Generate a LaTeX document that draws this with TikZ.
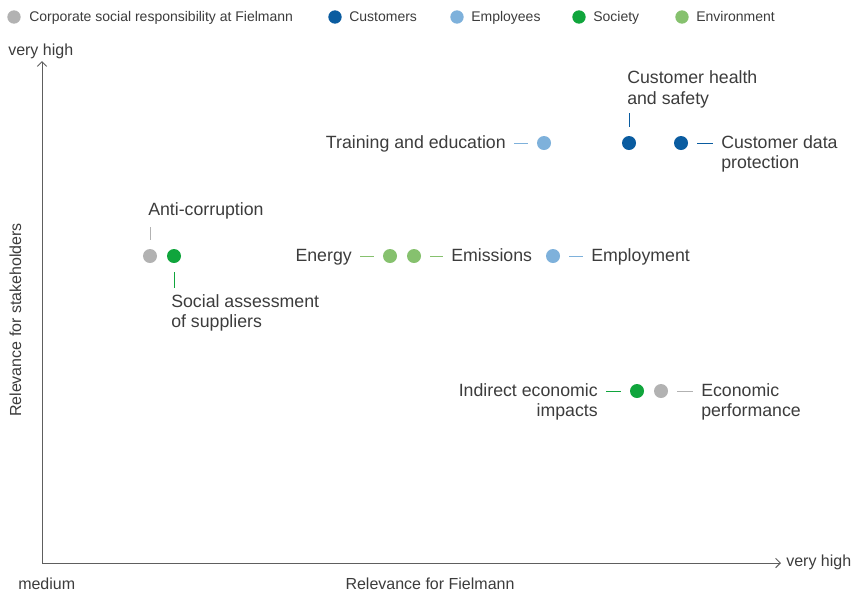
\documentclass[tikz,border=0pt]{standalone}
\usepackage{fontspec}
\setmainfont{Liberation Sans}
\usetikzlibrary{positioning,arrows.meta}

\definecolor{csrgrey}{HTML}{B2B2B2}
\definecolor{custblue}{HTML}{0A5CA0}
\definecolor{empblue}{HTML}{7EB1DB}
\definecolor{socgreen}{HTML}{10A53C}
\definecolor{envgreen}{HTML}{86C16E}
\definecolor{txtgrey}{HTML}{3C3C3C}
\definecolor{axisgrey}{HTML}{5E5E5E}

\tikzset{
  dot/.style={circle, fill=#1, inner sep=0pt, minimum size=10.5pt},
  lbl/.style={text=txtgrey, font=\fontsize{13.3}{15.5}\selectfont, inner sep=0pt},
  oneline/.style={lbl, text height=10.6pt, text depth=2.4pt},
  axlbl/.style={text=txtgrey, font=\fontsize{12}{14}\selectfont, inner sep=0pt, text height=8.8pt, text depth=2.5pt},
  lgd/.style={text=txtgrey, font=\fontsize{10.5}{12}\selectfont, inner sep=0pt, anchor=west, text height=8.3pt, text depth=1.9pt},
  conn/.style={draw=#1, line width=0.7pt, shorten <=6.75pt, shorten >=6pt},
}

\begin{document}
\begin{tikzpicture}[x=0.75pt, y=-0.75pt]
    \useasboundingbox (0,0) rectangle (853,594);

    % legend
    \node[dot=csrgrey, minimum size=10pt] (lgcsr) at (14,17) {};
    \node[lgd] at (29,17) {Corporate social responsibility at Fielmann};
    \node[dot=custblue, minimum size=10pt] (lgcust) at (335,17) {};
    \node[lgd] at (349,17) {Customers};
    \node[dot=empblue, minimum size=10pt] (lgemp) at (457,17) {};
    \node[lgd] at (471,17) {Employees};
    \node[dot=socgreen, minimum size=10pt] (lgsoc) at (579,17) {};
    \node[lgd] at (593,17) {Society};
    \node[dot=envgreen, minimum size=10pt] (lgenv) at (682,17) {};
    \node[lgd] at (696,17) {Environment};

    % axes
    \coordinate (origin) at (42,563);
    \coordinate (ytop) at (42,61);
    \coordinate (xend) at (781,563);
    \draw[axisgrey, line width=0.75pt, -{Straight Barb[length=3.5pt, width=7pt]}] (origin) -- (ytop);
    \draw[axisgrey, line width=0.75pt, -{Straight Barb[length=3.5pt, width=7pt]}] (origin) -- (xend);
    \node[axlbl, anchor=west] at (8,51) {very high};
    \node[axlbl, anchor=west] at (786,562) {very high};
    \node[axlbl, anchor=west] at (18,585) {medium};
    \node[axlbl] at (430,585) {Relevance for Fielmann};
    \node[axlbl, rotate=90] at (17,320) {Relevance for stakeholders};

    % customers and employees
    \node[dot=empblue] (train) at (544,143) {};
    \node[oneline, anchor=east] (trainlbl) at (506,143) {Training and education};
    \draw[conn=empblue] (train.west) -- (trainlbl.east);

    \node[dot=custblue] (health) at (629,143) {};
    \node[lbl, anchor=south west, align=left] (healthlbl) at (627,108) {Customer health\\and safety};
    \draw[conn=custblue, shorten >=3.75pt] (health.north) -- (health.north |- healthlbl.south);

    \node[dot=custblue] (data) at (681,143) {};
    \node[lbl, anchor=west, align=left] (datalbl) at (721,154) {Customer data\\protection};
    \draw[conn=custblue] (data.east) -- (data.east -| datalbl.west);

    % anti-corruption and suppliers
    \node[dot=csrgrey] (anticorr) at (150,256) {};
    \node[oneline, anchor=south west] (anticorrlbl) at (148,219) {Anti-corruption};
    \draw[conn=csrgrey] (anticorr.north) -- (anticorr.north |- anticorrlbl.south);

    \node[dot=socgreen] (suppl) at (174,256) {};
    \node[lbl, anchor=north west, align=left] (suppllbl) at (171,294) {Social assessment\\of suppliers};
    \draw[conn=socgreen, shorten >=4.5pt] (suppl.south) -- (suppl.south |- suppllbl.north);

    % environment
    \node[dot=envgreen] (energy) at (390,256) {};
    \node[oneline, anchor=east] (energylbl) at (352,256) {Energy};
    \draw[conn=envgreen] (energy.west) -- (energylbl.east);

    \node[dot=envgreen] (emis) at (414,256) {};
    \node[oneline, anchor=west] (emislbl) at (451,256) {Emissions};
    \draw[conn=envgreen] (emis.east) -- (emislbl.west);

    \node[dot=empblue] (employ) at (553,256) {};
    \node[oneline, anchor=west] (employlbl) at (591,256) {Employment};
    \draw[conn=empblue] (employ.east) -- (employlbl.west);

    % economy
    \node[dot=socgreen] (indirect) at (637,391) {};
    \node[lbl, anchor=east, align=right] (indirectlbl) at (598,402) {Indirect economic\\impacts};
    \draw[conn=socgreen] (indirect.west) -- (indirect.west -| indirectlbl.east);

    \node[dot=csrgrey] (econ) at (661,391) {};
    \node[lbl, anchor=west, align=left] (econlbl) at (701,402) {Economic\\performance};
    \draw[conn=csrgrey] (econ.east) -- (econ.east -| econlbl.west);
\end{tikzpicture}
\end{document}
